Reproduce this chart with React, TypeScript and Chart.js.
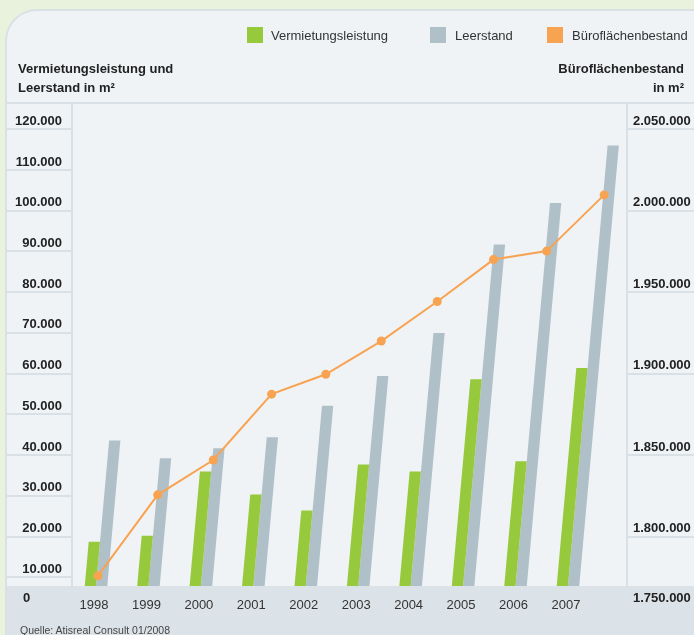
import React, { useEffect, useRef } from "react";
import { Chart, registerables } from "chart.js";

Chart.register(...registerables);

// ---------- data ----------
const YEARS = [1998, 1999, 2000, 2001, 2002, 2003, 2004, 2005, 2006, 2007];
const VERMIETUNG = [18700, 20200, 36000, 30300, 26400, 37700, 36000, 58600, 38500, 61400];
const LEERSTAND = [43600, 39200, 41700, 44400, 52100, 59400, 70000, 91700, 101900, 116000];
const BESTAND = [1775900, 1825600, 1847000, 1887400, 1899600, 1920000, 1944300, 1970000, 1975200, 2009700];

const LEFT_TICKS = [10000, 20000, 30000, 40000, 50000, 60000, 70000, 80000, 90000, 100000, 110000, 120000];
const RIGHT_TICKS = [1800000, 1850000, 1900000, 1950000, 2000000, 2050000];

const SERIES_NAMES = ["Vermietungsleistung", "Leerstand", "Büroflächenbestand"];
const LEFT_TITLE = ["Vermietungsleistung und", "Leerstand in m²"];
const RIGHT_TITLE = ["Büroflächenbestand", "in m²"];
const LEFT_BOTTOM_LABEL = "0";
const RIGHT_BOTTOM_LABEL = "1.750.000";
const SOURCE = "Quelle: Atisreal Consult 01/2008";

// axis ranges (as in the original, the baseline sits slightly above 0)
const LEFT_MIN = 7860;
const LEFT_MAX = 126440;
const RIGHT_MIN = 1769650;
const RIGHT_MAX = 2066100;
const X_MIN = 1997.542;
const X_MAX = 2008.126;

// ---------- style ----------
const FONT = '"Liberation Sans", Arial, sans-serif';
const GREEN = "#97c93d";
const GRAY = "#b0c0c8";
const ORANGE = "#f8a352";
const LINE_COLOR = "#d9e1e6";
const BAND = "#dce3e8";
const PANEL = "#eff3f6";
const OUTER = "#e9f2dd";
const TEXT = "#222222";
const SHEAR = 0.09;
const PANEL_LEFT = 7;

const fmt = (v: number) =>
  Math.round(v)
    .toString()
    .replace(/\B(?=(\d{3})+(?!\d))/g, ".");

const decorPlugin = {
  id: "decor",
  beforeDraw(chart: any) {
    const { ctx, chartArea, width, height } = chart;
    ctx.save();
    ctx.fillStyle = BAND;
    ctx.fillRect(PANEL_LEFT, chartArea.bottom, width - PANEL_LEFT, height - chartArea.bottom);
    ctx.strokeStyle = LINE_COLOR;
    ctx.lineWidth = 2;
    ctx.beginPath();
    ctx.moveTo(PANEL_LEFT, chartArea.top);
    ctx.lineTo(width, chartArea.top);
    ctx.stroke();
    ctx.restore();
  },
};

// oblique (slanted) look of the original: bars become parallelograms,
// line points follow the same shear
const shearPlugin = {
  id: "shear",
  afterDatasetsUpdate(chart: any) {
    const bottom = chart.chartArea.bottom;
    chart.data.datasets.forEach((_ds: any, i: number) => {
      const meta = chart.getDatasetMeta(i);
      if (meta.type !== "line") return;
      meta.data.forEach((pt: any) => {
        pt.x = pt.x + 1 + SHEAR * (bottom - pt.y);
      });
    });
  },
  beforeDatasetDraw(chart: any, args: any) {
    const meta = args.meta;
    if (meta.type !== "bar") return;
    const ctx = chart.ctx;
    const color = chart.data.datasets[args.index].backgroundColor;
    const bottom = chart.chartArea.bottom;
    ctx.save();
    ctx.fillStyle = color;
    meta.data.forEach((el: any) => {
      const { x, y, base, width } = el.getProps(["x", "y", "base", "width"], true);
      const b = Math.min(base, bottom);
      const dx = SHEAR * (b - y);
      ctx.beginPath();
      ctx.moveTo(x - width / 2, b);
      ctx.lineTo(x + width / 2, b);
      ctx.lineTo(x + width / 2 + dx, y);
      ctx.lineTo(x - width / 2 + dx, y);
      ctx.closePath();
      ctx.fill();
    });
    ctx.restore();
    return false;
  },
};

export default function App() {
  const ref = useRef<HTMLCanvasElement>(null);

  useEffect(() => {
    const chart = new Chart(ref.current as HTMLCanvasElement, {
      type: "bar",
      data: {
        datasets: [
          {
            type: "bar",
            label: SERIES_NAMES[0],
            data: VERMIETUNG.map((v, i) => ({ x: YEARS[i], y: v })),
            backgroundColor: GREEN,
            yAxisID: "y",
            order: 1,
          },
          {
            type: "bar",
            label: SERIES_NAMES[1],
            data: LEERSTAND.map((v, i) => ({ x: YEARS[i], y: v })),
            backgroundColor: GRAY,
            yAxisID: "y",
            order: 1,
          },
          {
            type: "line",
            label: SERIES_NAMES[2],
            data: BESTAND.map((v, i) => ({ x: YEARS[i], y: v })),
            borderColor: ORANGE,
            backgroundColor: ORANGE,
            borderWidth: 2,
            pointRadius: 4.5,
            pointBorderWidth: 0,
            pointBackgroundColor: ORANGE,
            tension: 0,
            yAxisID: "y1",
            order: 0,
          },
        ] as any,
      },
      options: {
        responsive: false,
        animation: false,
        events: [],
        categoryPercentage: 0.43,
        barPercentage: 1,
        layout: { padding: { left: PANEL_LEFT, top: 103, right: 0, bottom: 0 } },
        plugins: {
          legend: { display: false },
          tooltip: { enabled: false },
          title: { display: false },
        },
        scales: {
          x: {
            type: "linear",
            min: X_MIN,
            max: X_MAX,
            offset: false,
            grid: { display: false },
            border: { display: false },
            afterBuildTicks: (s: any) => {
              s.ticks = YEARS.map((value) => ({ value }));
            },
            afterFit: (s: any) => {
              s.height = 49;
            },
            ticks: {
              autoSkip: false,
              maxRotation: 0,
              padding: 4,
              labelOffset: -2,
              color: "#333",
              font: { family: FONT, size: 13 },
              callback: (v: any) => String(v),
            },
          },
          y: {
            type: "linear",
            position: "left",
            min: LEFT_MIN,
            max: LEFT_MAX,
            beginAtZero: false,
            grid: {
              drawOnChartArea: false,
              drawTicks: true,
              tickLength: 65,
              color: LINE_COLOR,
              lineWidth: 2,
            },
            border: { display: true, color: LINE_COLOR, width: 2 },
            afterBuildTicks: (s: any) => {
              s.ticks = LEFT_TICKS.map((value) => ({ value }));
            },
            afterFit: (s: any) => {
              s.width = 65;
            },
            ticks: {
              autoSkip: false,
              padding: -55,
              labelOffset: -8,
              color: TEXT,
              font: { family: FONT, size: 13, weight: "bold" },
              callback: (v: any) => fmt(Number(v)),
            },
          },
          y1: {
            type: "linear",
            position: "right",
            min: RIGHT_MIN,
            max: RIGHT_MAX,
            beginAtZero: false,
            grid: {
              drawOnChartArea: false,
              drawTicks: true,
              tickLength: 67,
              color: LINE_COLOR,
              lineWidth: 2,
            },
            border: { display: true, color: LINE_COLOR, width: 2 },
            afterBuildTicks: (s: any) => {
              s.ticks = RIGHT_TICKS.map((value) => ({ value }));
            },
            afterFit: (s: any) => {
              s.width = 67;
            },
            ticks: {
              autoSkip: false,
              padding: -61,
              labelOffset: -8,
              color: TEXT,
              font: { family: FONT, size: 13, weight: "bold" },
              callback: (v: any) => fmt(Number(v)),
            },
          },
        },
      } as any,
      plugins: [decorPlugin, shearPlugin],
    });
    return () => chart.destroy();
  }, []);

  const legendItems = [
    { color: GREEN, box: 247, text: 271, label: SERIES_NAMES[0] },
    { color: GRAY, box: 430, text: 455, label: SERIES_NAMES[1] },
    { color: ORANGE, box: 547, text: 572, label: SERIES_NAMES[2] },
  ];

  const abs = (s: React.CSSProperties): React.CSSProperties => ({ position: "absolute", ...s });

  return (
    <div
      style={{
        position: "fixed",
        left: 0,
        top: 0,
        width: 694,
        height: 635,
        overflow: "hidden",
        background: OUTER,
        fontFamily: FONT,
      }}
    >
      <div
        style={abs({
          left: 5,
          top: 9,
          right: -4,
          bottom: -4,
          background: PANEL,
          borderLeft: `2px solid ${LINE_COLOR}`,
          borderTop: `2px solid ${LINE_COLOR}`,
          borderTopLeftRadius: 32,
        })}
      />
      <canvas ref={ref} width={694} height={635} style={abs({ left: 0, top: 0, width: 694, height: 635 })} />

      {legendItems.map((it) => (
        <React.Fragment key={it.label}>
          <div style={abs({ left: it.box, top: 27, width: 16, height: 16, background: it.color })} />
          <div style={abs({ left: it.text, top: 27, lineHeight: "17px", fontSize: 13, color: "#333", whiteSpace: "nowrap" })}>
            {it.label}
          </div>
        </React.Fragment>
      ))}

      <div style={abs({ left: 18, top: 59, lineHeight: "19px", fontSize: 13, fontWeight: "bold", color: TEXT, whiteSpace: "nowrap" })}>
        {LEFT_TITLE[0]}
        <br />
        {LEFT_TITLE[1]}
      </div>
      <div
        style={abs({
          right: 10,
          top: 59,
          lineHeight: "19px",
          fontSize: 13,
          fontWeight: "bold",
          color: TEXT,
          textAlign: "right",
          whiteSpace: "nowrap",
        })}
      >
        {RIGHT_TITLE[0]}
        <br />
        {RIGHT_TITLE[1]}
      </div>

      <div style={abs({ left: 23, top: 589, lineHeight: "17px", fontSize: 13, fontWeight: "bold", color: TEXT })}>
        {LEFT_BOTTOM_LABEL}
      </div>
      <div style={abs({ left: 633, top: 589, lineHeight: "17px", fontSize: 13, fontWeight: "bold", color: TEXT })}>
        {RIGHT_BOTTOM_LABEL}
      </div>
      <div style={abs({ left: 20, top: 623, lineHeight: "14px", fontSize: 10.5, color: "#444", whiteSpace: "nowrap" })}>
        {SOURCE}
      </div>
    </div>
  );
}
